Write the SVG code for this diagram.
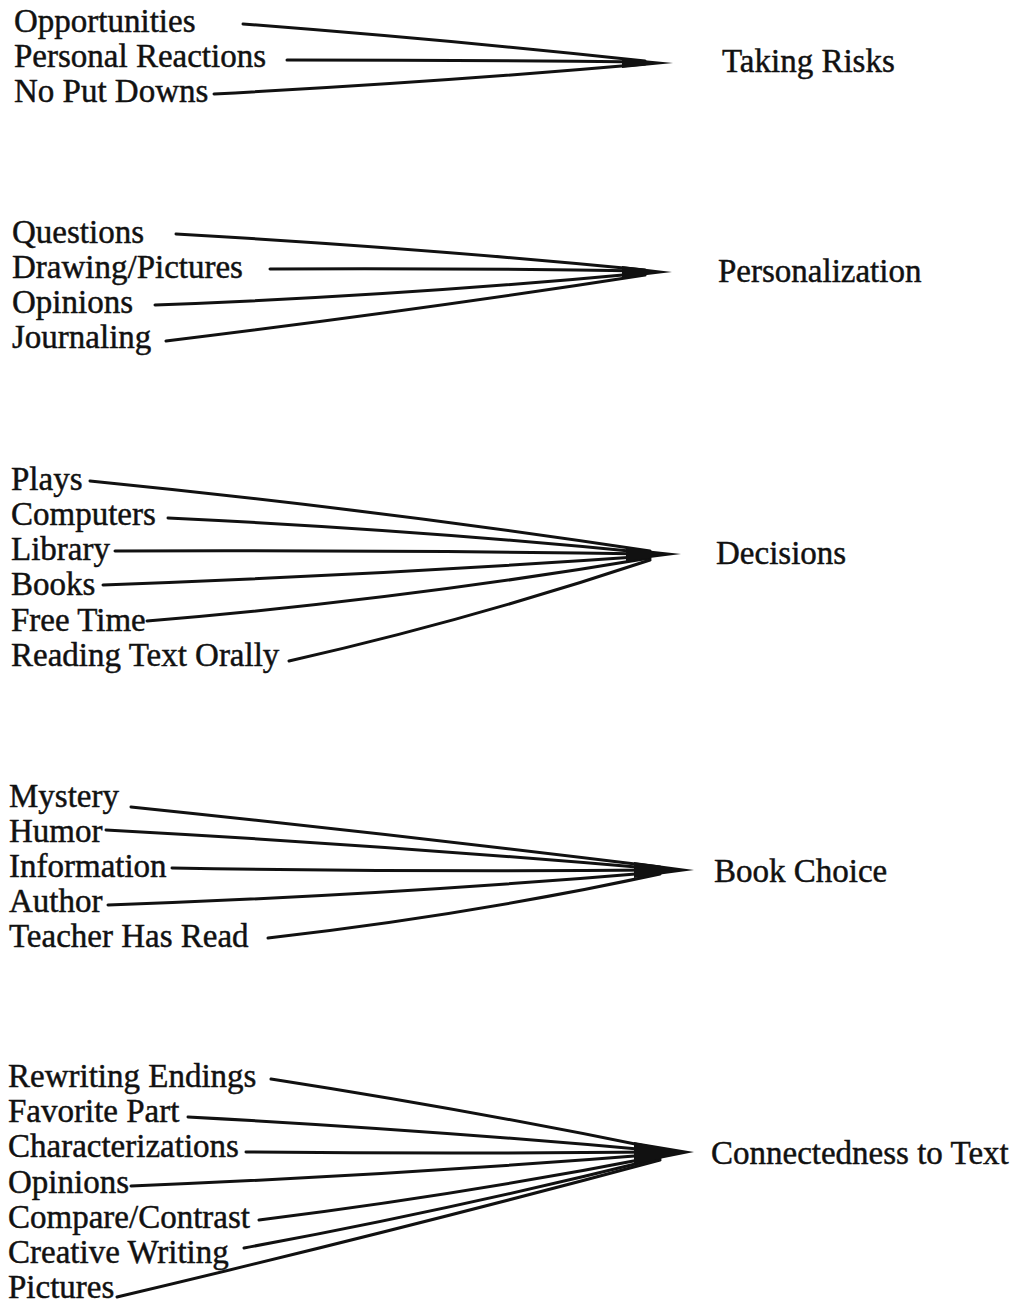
<svg xmlns="http://www.w3.org/2000/svg" width="1023" height="1303" viewBox="0 0 1023 1303">
  <style>
    text { font-family: "Liberation Serif", "Times New Roman", serif; font-size: 33px; fill: #111; stroke: #111; stroke-width: 0.45; }
    .link { fill: none; stroke: #111; stroke-width: 3; stroke-linecap: round; }
    .wedge { fill: #111; }
  </style>
  <rect width="1023" height="1303" fill="#fff"/>

  <!-- connectors: each source line runs into a dark wedge pointing at its target -->
  <g id="connectors">
    <!-- Taking Risks -->
    <path class="link" d="M243,24 Q450,40 645,61"/>
    <path class="link" d="M287,60 Q470,60 645,62"/>
    <path class="link" d="M214,94 Q440,82 645,64"/>
    <polygon class="wedge" points="622,58 673,63 622,68"/>
    <!-- Personalization -->
    <path class="link" d="M176,234 Q420,248 645,270"/>
    <path class="link" d="M270,269 Q460,268 645,271"/>
    <path class="link" d="M155,305 Q400,296 645,273"/>
    <path class="link" d="M166,341 Q420,310 645,275"/>
    <polygon class="wedge" points="622,266 672,272 622,278"/>
    <!-- Decisions -->
    <path class="link" d="M90,481 Q380,510 650,551"/>
    <path class="link" d="M168,518 Q420,530 650,553"/>
    <path class="link" d="M115,551 Q390,550 650,554"/>
    <path class="link" d="M103,585 Q380,575 650,556"/>
    <path class="link" d="M147,621 Q400,600 650,558"/>
    <path class="link" d="M289,661 Q470,620 650,560"/>
    <polygon class="wedge" points="626,548 681,554 626,561"/>
    <!-- Book Choice -->
    <path class="link" d="M131,807 Q400,835 660,867"/>
    <path class="link" d="M106,830 Q380,845 660,869"/>
    <path class="link" d="M172,868 Q420,872 660,870"/>
    <path class="link" d="M108,905 Q390,895 660,872"/>
    <path class="link" d="M268,938 Q470,915 660,874"/>
    <polygon class="wedge" points="634,862 694,870 634,878"/>
    <!-- Connectedness to Text -->
    <path class="link" d="M271,1079 Q470,1110 660,1149"/>
    <path class="link" d="M188,1117 Q430,1130 660,1151"/>
    <path class="link" d="M246,1152 Q450,1154 660,1152"/>
    <path class="link" d="M131,1186 Q400,1175 660,1154"/>
    <path class="link" d="M259,1220 Q460,1195 660,1156"/>
    <path class="link" d="M244,1248 Q450,1210 660,1158"/>
    <path class="link" d="M117,1297 Q400,1230 660,1160"/>
    <polygon class="wedge" points="634,1142 694,1152 634,1164"/>
  </g>

  <!-- Taking Risks cluster -->
  <g id="opportunities"><text x="14" y="32">Opportunities</text></g>
  <g id="personal-reactions"><text x="14" y="67">Personal Reactions</text></g>
  <g id="no-put-downs"><text x="14" y="102">No Put Downs</text></g>
  <g id="taking-risks"><text x="722" y="72">Taking Risks</text></g>

  <!-- Personalization cluster -->
  <g id="questions"><text x="12" y="243">Questions</text></g>
  <g id="drawing-pictures"><text x="12" y="278">Drawing/Pictures</text></g>
  <g id="opinions-1"><text x="12" y="313">Opinions</text></g>
  <g id="journaling"><text x="12" y="348">Journaling</text></g>
  <g id="personalization"><text x="718" y="282">Personalization</text></g>

  <!-- Decisions cluster -->
  <g id="plays"><text x="11" y="490">Plays</text></g>
  <g id="computers"><text x="11" y="525">Computers</text></g>
  <g id="library"><text x="11" y="560">Library</text></g>
  <g id="books"><text x="11" y="595">Books</text></g>
  <g id="free-time"><text x="11" y="631">Free Time</text></g>
  <g id="reading-text-orally"><text x="11" y="666">Reading Text Orally</text></g>
  <g id="decisions"><text x="716" y="564">Decisions</text></g>

  <!-- Book Choice cluster -->
  <g id="mystery"><text x="9" y="807">Mystery</text></g>
  <g id="humor"><text x="9" y="842">Humor</text></g>
  <g id="information"><text x="9" y="877">Information</text></g>
  <g id="author"><text x="9" y="912">Author</text></g>
  <g id="teacher-has-read"><text x="9" y="947">Teacher Has Read</text></g>
  <g id="book-choice"><text x="714" y="882">Book Choice</text></g>

  <!-- Connectedness to Text cluster -->
  <g id="rewriting-endings"><text x="8" y="1087">Rewriting Endings</text></g>
  <g id="favorite-part"><text x="8" y="1122">Favorite Part</text></g>
  <g id="characterizations"><text x="8" y="1157">Characterizations</text></g>
  <g id="opinions-2"><text x="8" y="1193">Opinions</text></g>
  <g id="compare-contrast"><text x="8" y="1228">Compare/Contrast</text></g>
  <g id="creative-writing"><text x="8" y="1263">Creative Writing</text></g>
  <g id="pictures"><text x="8" y="1298">Pictures</text></g>
  <g id="connectedness-to-text"><text x="711" y="1164">Connectedness to Text</text></g>
</svg>
